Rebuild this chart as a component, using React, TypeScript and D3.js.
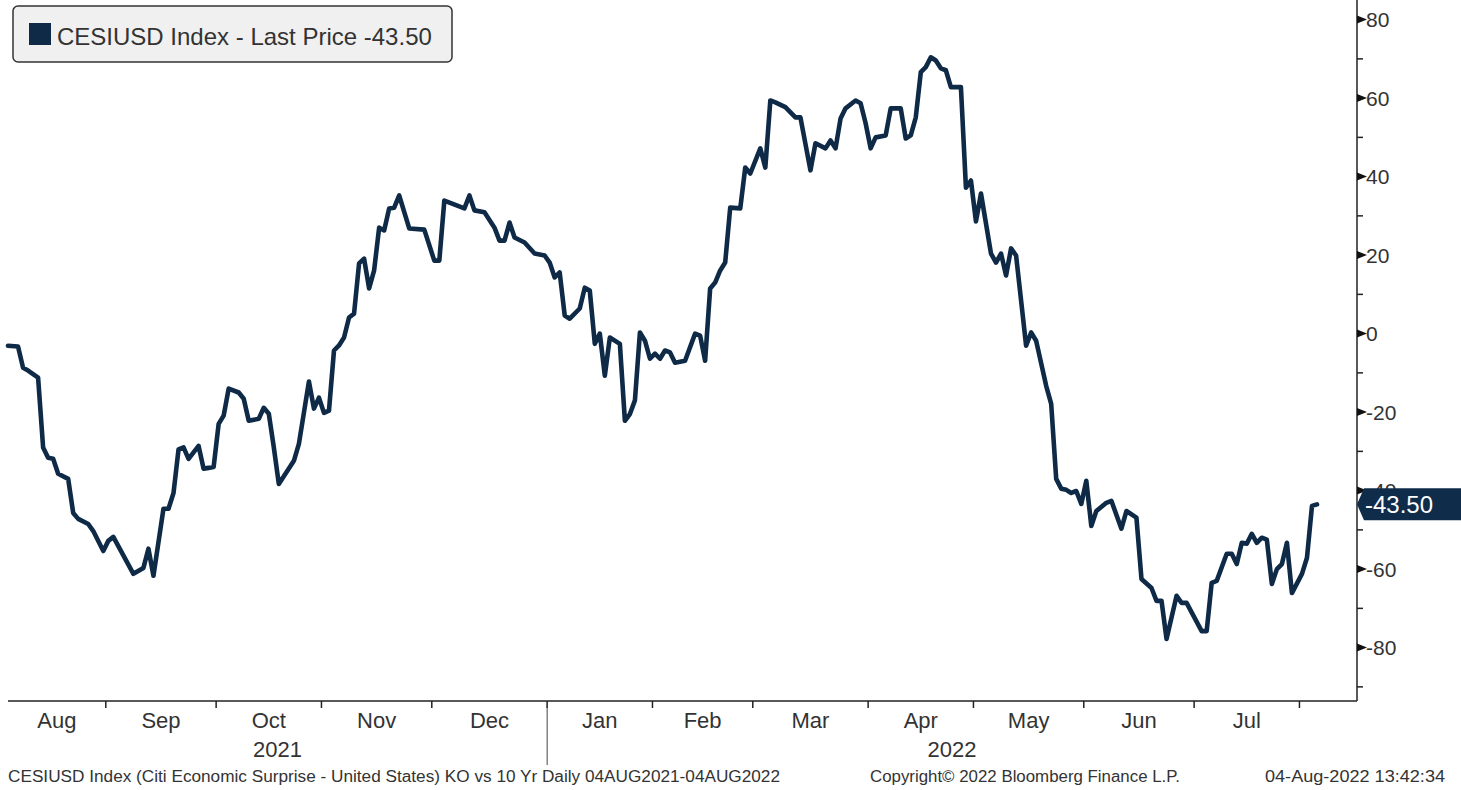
import React from "react";
import * as d3 from "d3";

// ---------- data ----------
const START_DATE = "2021-08-04";
const END_DATE = "2022-08-04";
const SERIES_NAME = "CESIUSD Index - Last Price";
const LAST_PRICE = -43.5;

// trading-day offset from START_DATE (weekdays) and index value at that day
const dayIndex = [
  0, 2, 3, 4, 6, 7, 8, 9, 10, 12, 13, 14, 16, 17, 19, 20, 21, 25, 27, 28, 29, 31, 32, 33, 34, 35, 36, 38, 39, 40, 41,
  42, 43, 44, 46, 47, 48, 50, 51, 52, 53, 54, 57, 58, 60, 61, 62, 63, 64, 65, 66, 67, 68, 69, 70, 71, 72, 73, 74, 75,
  76, 77, 78, 80, 83, 85, 86, 87, 91, 92, 93, 95, 97, 98, 99, 100, 101, 103, 105, 107, 108, 109, 110, 111, 112, 114,
  115, 116, 117, 118, 119, 120, 122, 123, 124, 125, 126, 127, 128, 129, 130, 131, 132, 133, 135, 137, 138, 139, 140,
  141, 142, 143, 144, 146, 147, 148, 150, 151, 152, 153, 155, 157, 158, 160, 161, 163, 164, 165, 166, 167, 169, 170,
  171, 172, 173, 175, 176, 178, 179, 180, 181, 182, 183, 184, 185, 186, 187, 188, 190, 191, 192, 193, 194, 196, 197,
  198, 199, 200, 201, 203, 204, 205, 207, 208, 209, 210, 211, 212, 213, 214, 215, 216, 217, 219, 220, 222, 223, 225,
  226, 228, 229, 230, 231, 233, 234, 235, 238, 239, 240, 241, 243, 244, 245, 246, 247, 248, 249, 250, 251, 252, 253,
  254, 255, 256, 258, 259, 260, 261,
];
const cesi = [
  -3.1, -3.3, -8.7, -9.4, -11.2, -29, -31.6, -31.9, -35.7, -37, -45.7, -47.2, -48.5, -50.3, -55.4, -52.8, -51.8,
  -61.2, -59.7, -54.8, -61.7, -44.6, -44.6, -40.6, -29.5, -29, -31.9, -28.6, -34.4, -34.2, -34, -23, -20.9, -14, -15,
  -16.6, -22.2, -21.7, -18.9, -20.4, -29, -38.3, -32.4, -28.1, -12.2, -19.1, -16.3, -20.2, -19.6, -4.3, -3, -1, 4.1,
  5.1, 17.9, 19.1, 11.5, 16.1, 27, 26.3, 31.9, 32.1, 35.2, 26.8, 26.5, 18.6, 18.6, 33.9, 31.9, 35.2, 31.4, 30.9, 27,
  23.7, 23.7, 28.3, 24.5, 23.2, 20.4, 19.9, 18.1, 14.3, 15.6, 4.6, 3.8, 6.4, 11.7, 11, -2.6, 0, -10.7, -1, -2.6, -22.2,
  -20.5, -17, 0.3, -1.8, -6.4, -5.1, -6.4, -4.3, -4.8, -7.4, -6.9, 0, -0.5, -6.9, 11.5, 13, 16.1, 18.1, 32.1, 31.9,
  42.3, 40.8, 47.2, 42.3, 59.4, 58.9, 57.7, 55.1, 55.1, 41.6, 48.5, 47.2, 49.2, 47.2, 54.8, 57.4, 59.4, 58.7, 53.6,
  47.2, 50, 50.5, 57.4, 57.4, 49.7, 50.5, 55.1, 66.6, 67.9, 70.4, 69.6, 67.6, 67.1, 62.8, 62.8, 37.2, 39, 28.6, 35.7,
  20.4, 18.1, 20.4, 14.8, 21.7, 19.9, -3.1, 0.3, -1.8, -13.3, -17.9, -37, -39.5, -39.8, -40.6, -40.1, -43.4, -37.5,
  -49, -45.2, -43.1, -42.6, -49.7, -45.2, -46.9, -62.5, -64.8, -68.1, -68.1, -77.8, -66.8, -68.6, -68.6, -75.8, -75.8,
  -63.5, -63, -56.1, -56.1, -58.7, -53.3, -53.5, -51, -53.3, -52, -52.5, -63.8, -60, -58.7, -53.3, -66.1, -61.2,
  -57.1, -43.9, -43.5,
];

const yTicks = [80, 60, 40, 20, 0, -20, -40, -60, -80];
const yMinorTicks = [70, 50, 30, 10, -10, -30, -50, -70, -90];
const monthNames = ["Jan", "Feb", "Mar", "Apr", "May", "Jun", "Jul", "Aug", "Sep", "Oct", "Nov", "Dec"];

const FOOTER_LEFT =
  "CESIUSD Index (Citi Economic Surprise - United States) KO vs 10 Yr  Daily 04AUG2021-04AUG2022";
const FOOTER_MID = "Copyright\u00A9 2022 Bloomberg Finance L.P.";
const FOOTER_RIGHT = "04-Aug-2022 13:42:34";

// ---------- layout ----------
const W = 1461;
const H = 790;
const PLOT_LEFT = 8;
const PLOT_RIGHT = 1357;
const PLOT_TOP = 0;
const PLOT_BOTTOM = 701;
const LINE_COLOR = "#0e2a47";
const TEXT_COLOR = "#333333";
const FONT = "'Liberation Sans', Arial, sans-serif";

function tradingDates(): Date[] {
  const out: Date[] = [];
  const d = new Date(START_DATE + "T00:00:00");
  const end = new Date(END_DATE + "T00:00:00");
  while (d <= end) {
    const wd = d.getDay();
    if (wd !== 0 && wd !== 6) out.push(new Date(d));
    d.setDate(d.getDate() + 1);
  }
  return out;
}

export default function App() {
  const dates = tradingDates();
  const lastIdx = dates.length - 1;
  const x = d3.scaleLinear().domain([0, lastIdx]).range([PLOT_LEFT, 1317]);
  const y = d3.scaleLinear().domain([-93.6, 85]).range([PLOT_BOTTOM, PLOT_TOP]);

  // month boundaries
  const bounds: { i: number; date: Date }[] = [];
  for (let i = 1; i < dates.length; i++) {
    if (dates[i].getMonth() !== dates[i - 1].getMonth()) bounds.push({ i: i - 0.5, date: dates[i] });
  }
  const boundX = bounds.map((b) => x(b.i));
  const monthLabels: { label: string; cx: number }[] = [];
  let prev = PLOT_LEFT;
  let prevDate = dates[0];
  bounds.forEach((b, k) => {
    monthLabels.push({ label: monthNames[prevDate.getMonth()], cx: (prev + boundX[k]) / 2 });
    prev = boundX[k];
    prevDate = b.date;
  });
  const yearBound = bounds.find((b) => b.date.getMonth() === 0)!;
  const yearX = x(yearBound.i);
  const years = [
    { label: String(dates[0].getFullYear()), cx: (PLOT_LEFT + yearX) / 2 },
    { label: String(yearBound.date.getFullYear()), cx: (yearX + PLOT_RIGHT) / 2 },
  ];

  const pts = dayIndex.map((d, k) => [d, cesi[k]] as [number, number]);
  const line = d3
    .line<[number, number]>()
    .x((p) => x(p[0]))
    .y((p) => y(p[1]));

  const lastY = y(LAST_PRICE);

  return (
    <svg
      width={W}
      height={H}
      style={{ position: "absolute", left: 0, top: 0, background: "#fff" }}
      fontFamily={FONT}
    >
      <rect x={0} y={0} width={W} height={H} fill="#fff" />
      {/* series */}
      <path d={line(pts) || ""} fill="none" stroke={LINE_COLOR} strokeWidth={4.6} strokeLinejoin="round" strokeLinecap="round" />

      {/* axes lines */}
      <line x1={PLOT_LEFT} x2={PLOT_RIGHT} y1={PLOT_BOTTOM} y2={PLOT_BOTTOM} stroke="#222" strokeWidth={1.5} />
      <line x1={PLOT_RIGHT} x2={PLOT_RIGHT} y1={PLOT_TOP} y2={PLOT_BOTTOM} stroke="#222" strokeWidth={1.5} />

      {/* x ticks */}
      {boundX.map((bx, k) => (
        <line key={"xt" + k} x1={bx} x2={bx} y1={PLOT_BOTTOM} y2={PLOT_BOTTOM + 7} stroke="#222" strokeWidth={1.5} />
      ))}
      {monthLabels.map((m, k) => (
        <text key={"ml" + k} x={m.cx} y={728} textAnchor="middle" fontSize={22} fill={TEXT_COLOR}>
          {m.label}
        </text>
      ))}
      <line x1={yearX} x2={yearX} y1={PLOT_BOTTOM + 4} y2={765} stroke="#444" strokeWidth={1} />
      {years.map((yy, k) => (
        <text key={"yl" + k} x={yy.cx} y={757} textAnchor="middle" fontSize={22} fill={TEXT_COLOR}>
          {yy.label}
        </text>
      ))}

      {/* y ticks */}
      {yMinorTicks.map((v) => (
        <line key={"ym" + v} x1={PLOT_RIGHT} x2={PLOT_RIGHT + 6} y1={y(v)} y2={y(v)} stroke="#222" strokeWidth={1.5} />
      ))}
      {yTicks.map((v) => (
        <g key={"yt" + v}>
          <path d={`M${PLOT_RIGHT},${y(v) - 4}L${PLOT_RIGHT + 10},${y(v)}L${PLOT_RIGHT},${y(v) + 4}Z`} fill="#111" />
          <text x={PLOT_RIGHT + 9} y={y(v) + 7.5} fontSize={21} fill={TEXT_COLOR}>
            {v < 0 ? "-" + Math.abs(v) : String(v)}
          </text>
        </g>
      ))}

      {/* last price tag */}
      <path
        d={`M${PLOT_RIGHT},${lastY}L${PLOT_RIGHT + 7},${lastY - 16}L${W},${lastY - 16}L${W},${lastY + 16}L${PLOT_RIGHT + 7},${lastY + 16}Z`}
        fill="#0f2c4b"
      />
      <text x={PLOT_RIGHT + 8} y={lastY + 9} fontSize={24} fill="#fff">
        {LAST_PRICE.toFixed(2)}
      </text>

      {/* legend */}
      <rect x={13} y={6} width={439} height={56} rx={5} ry={5} fill="#f0f0f0" stroke="#333" strokeWidth={1.5} />
      <rect x={29} y={23} width={22} height={22} fill={LINE_COLOR} />
      <text x={57} y={45} fontSize={24} fill={TEXT_COLOR}>
        {`${SERIES_NAME} ${LAST_PRICE.toFixed(2)}`}
      </text>

      {/* footer */}
      <text x={8} y={782} fontSize={16} fill={TEXT_COLOR} textLength={772} lengthAdjust="spacingAndGlyphs">
        {FOOTER_LEFT}
      </text>
      <text x={870} y={782} fontSize={16} fill={TEXT_COLOR} textLength={310} lengthAdjust="spacingAndGlyphs">
        {FOOTER_MID}
      </text>
      <text x={1265} y={782} fontSize={16} fill={TEXT_COLOR} textLength={180} lengthAdjust="spacingAndGlyphs">
        {FOOTER_RIGHT}
      </text>
    </svg>
  );
}
